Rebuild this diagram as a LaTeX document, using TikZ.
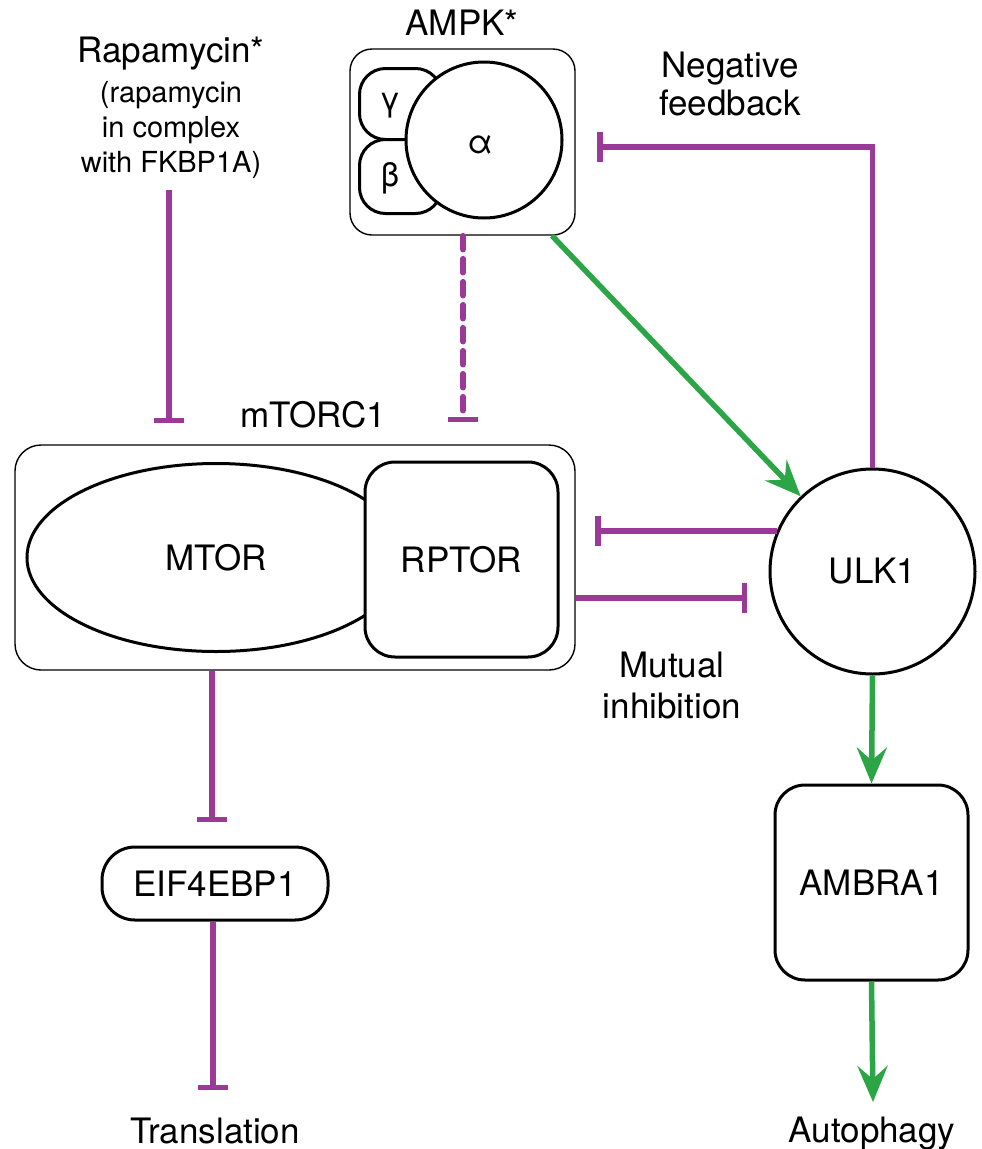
\documentclass[tikz,border=0pt]{standalone}
\usepackage{fontspec}
\setmainfont{TeX Gyre Heros}
\usetikzlibrary{arrows.meta,shapes.geometric}
\definecolor{inh}{RGB}{155,58,150}
\definecolor{act}{RGB}{43,165,70}
\begin{document}
\begin{tikzpicture}[x=1pt,y=-1pt,
  lab/.style={font=\fontsize{35}{41}\selectfont, inner sep=0pt, align=center},
  sublab/.style={font=\fontsize{29}{35}\selectfont, inner sep=0pt, align=center},
  greek/.style={font=\fontsize{33}{36}\selectfont, inner sep=0pt},
  thinbox/.style={draw, line width=1.4pt, rounded corners=22pt},
  thick/.style={draw, line width=3pt, fill=white},
  inhib/.style={draw=inh, line width=5.5pt, -{Bar[width=30pt,line width=5.5pt]}},
  activ/.style={draw=act, line width=5.5pt, -{Stealth[length=36pt,width=30pt,inset=13pt]}}]
\useasboundingbox (0,0) rectangle (982,1149);

% AMPK complex
\node[lab, anchor=base] (ampklab) at (462,35) {AMPK*};
\node[thinbox, minimum width=225pt, minimum height=186pt] (ampk) at (462.5,142) {};
\node[thick, rounded corners=26pt, minimum width=82pt, minimum height=71pt, anchor=north west] (gam) at (358,67) {};
\node[thick, rounded corners=26pt, minimum width=82pt, minimum height=74pt, anchor=north west] (bet) at (358,138) {};
\node[thick, circle, minimum size=156pt] (alpha) at (484,140) {};
\node[greek] at (390,106) {γ};
\node[greek] at (390,178) {β};
\node[greek] at (480,145) {α};

% Rapamycin
\node[lab, anchor=base] (rap) at (171,62) {Rapamycin*};
\node[sublab, anchor=base] (rap1) at (171,102) {(rapamycin};
\node[sublab, anchor=base] (rap2) at (171,137) {in complex};
\node[sublab, anchor=base] (rap3) at (171,172) {with FKBP1A)};

% Negative feedback label
\node[lab, anchor=base] (nfb1) at (730,77) {Negative};
\node[lab, anchor=base] (nfb2) at (730,115) {feedback};

% mTORC1 complex
\node[lab, anchor=base] (mtorclab) at (313,427) {mTORC1};
\node[thinbox, minimum width=560pt, minimum height=225pt, rounded corners=26pt] (mtorc) at (295,557.5) {};
\node[thick, ellipse, minimum width=378pt, minimum height=188pt, lab] (mtor) at (216,557.5) {MTOR};
\node[thick, rounded corners=30pt, minimum width=193pt, minimum height=195pt, lab] (rptor) at (461.5,559.5) {RPTOR};

% ULK1
\node[thick, circle, minimum size=205pt, lab] (ulk) at (872.5,571.5) {ULK1};

% Mutual inhibition label
\node[lab, anchor=base] (mut1) at (672,677) {Mutual};
\node[lab, anchor=base] (mut2) at (672,718) {inhibition};

% EIF4EBP1
\node[thick, rounded corners=33pt, minimum width=226pt, minimum height=73pt, lab] (eif) at (215,883.5) {EIF4EBP1};
\node[lab, anchor=base] (trans) at (215,1143) {Translation};

% AMBRA1
\node[thick, rounded corners=30pt, minimum width=193pt, minimum height=195pt, lab] (ambra) at (871.5,882.5) {AMBRA1};
\node[lab, anchor=base] (auto) at (872,1142) {Autophagy};

% coordinates for free ends
\coordinate (rapbar) at (169,423);
\coordinate (ampkbar) at (463,422);
\coordinate (fbbar) at (597,147);
\coordinate (ulkbar) at (595,532);
\coordinate (rptorbar) at (747,598);
\coordinate (eifbar) at (212,822);
\coordinate (transbar) at (213,1090);
\coordinate (autotip) at (873,1102);

% connectors
\draw[inhib] (rap3.south -| rapbar) ++(0,12) -- (rapbar);
\draw[inhib, dash pattern=on 14pt off 9pt, line cap=round] (ampk.south -| ampkbar) -- (ampkbar);
\draw[inhib] (ulk.north) |- (fbbar);
\draw[activ] ([xshift=89.5pt]ampk.south) -- (ulk);
\draw[inhib] (ulk.157.7) -- (ulkbar |- ulk.157.7);
\draw[inhib] (mtorc.east |- rptorbar) -- (rptorbar);
\draw[inhib] (mtorc.south -| eifbar) -- (eifbar);
\draw[inhib] (eif.south -| transbar) -- (transbar);
\draw[activ] (ulk.south) -- (ambra.north);
\draw[activ] (ambra.south) -- (autotip);
\end{tikzpicture}
\end{document}
